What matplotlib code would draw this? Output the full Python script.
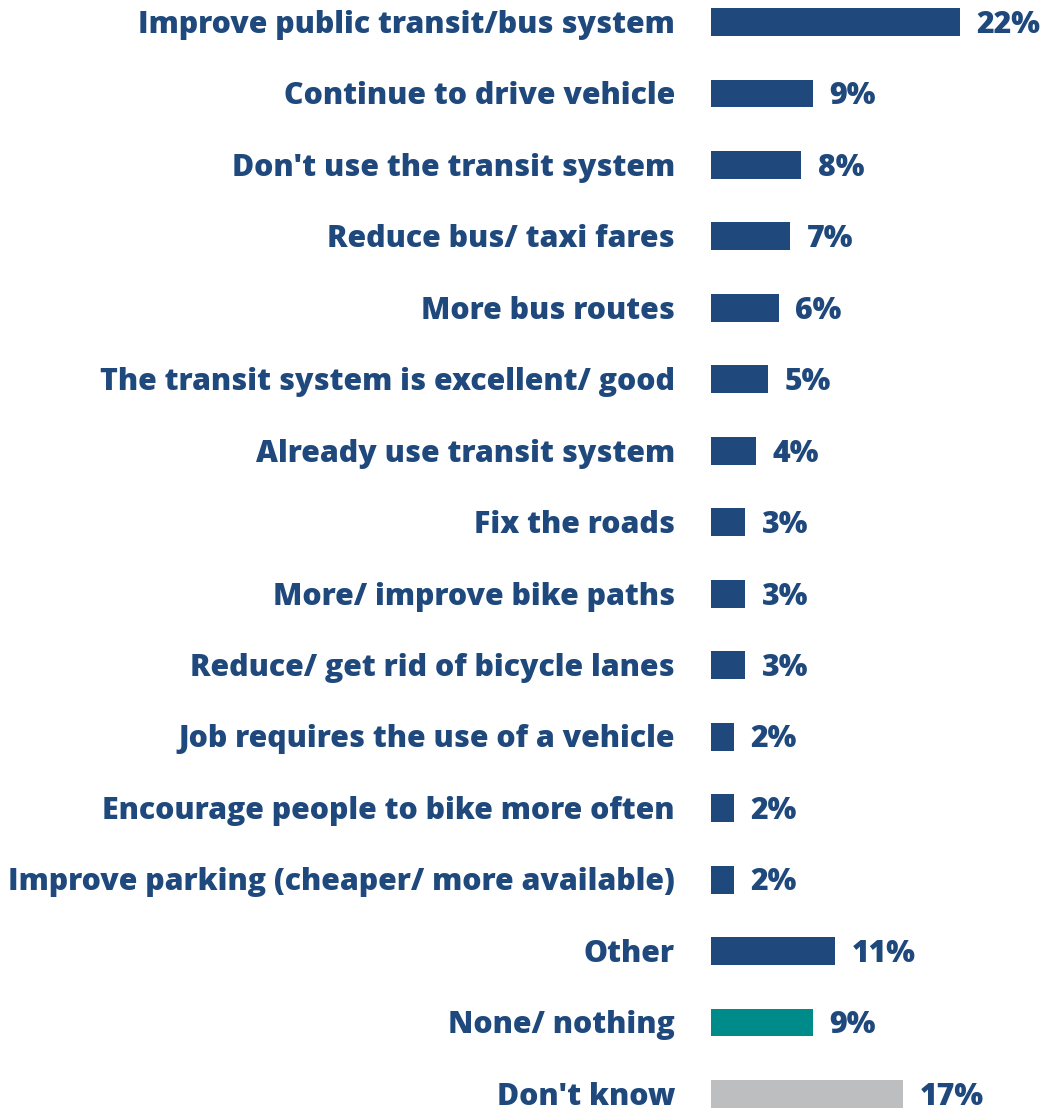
import matplotlib
matplotlib.use("Agg")
import matplotlib.pyplot as plt

# answers, top to bottom
labels = [
    "Improve public transit/bus system",
    "Continue to drive vehicle",
    "Don't use the transit system",
    "Reduce bus/ taxi fares",
    "More bus routes",
    "The transit system is excellent/ good",
    "Already use transit system",
    "Fix the roads",
    "More/ improve bike paths",
    "Reduce/ get rid of bicycle lanes",
    "Job requires the use of a vehicle",
    "Encourage people to bike more often",
    "Improve parking (cheaper/ more available)",
    "Other",
    "None/ nothing",
    "Don't know",
]
values = [22, 9, 8, 7, 6, 5, 4, 3, 3, 3, 2, 2, 2, 11, 9, 17]

navy = "#1F497D"
colors = [navy] * 14 + ["#008B8B", "#BCBEC0"]

plt.rcParams['font.family'] = ['Open Sans', 'DejaVu Sans']
fs = 21.8
drop = -0.357 * fs  # put cap height centred on the bar

fig = plt.figure(figsize=(10.44, 11.09), dpi=100)
# axes begins where the bars start
ax = fig.add_axes([711 / 1044, 0, 1 - 711 / 1044, 1])

y = list(range(len(labels)))
ax.barh(y, values, height=0.39, color=colors)

ax.set_xlim(0, (1044 - 711) / 11.3)
ax.set_ylim(15 + 15 / 71.5, -22 / 71.5)

for i, v in enumerate(values):
    ax.annotate(f"{v}%", (v, i), xytext=(12, drop), textcoords="offset points",
                ha="left", va="baseline", fontsize=fs, fontweight="heavy", color=navy)
    ax.annotate(labels[i], (0, i), xytext=(-26, drop), textcoords="offset points",
                ha="right", va="baseline", fontsize=fs, fontweight="heavy", color=navy,
                annotation_clip=False)

ax.axis("off")
fig.savefig("out.png", dpi=100)
